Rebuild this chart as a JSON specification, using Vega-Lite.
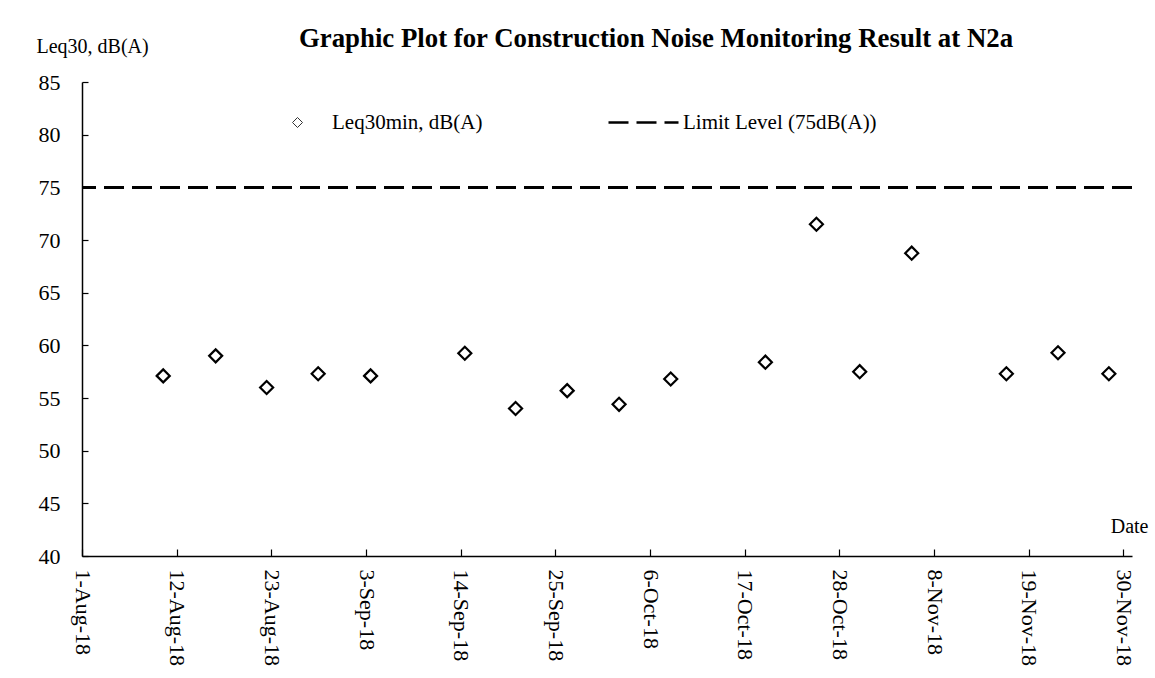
{
  "$schema": "https://vega.github.io/schema/vega-lite/v6.json",
  "autosize": {"type": "none"},
  "padding": {"left": 82, "top": 82, "right": 23, "bottom": 122},
  "width": 1050,
  "height": 474,
  "background": "white",
  "title": {
    "text": "Graphic Plot for Construction Noise Monitoring Result at N2a",
    "font": "Liberation Serif",
    "fontSize": 26.8,
    "fontWeight": "bold",
    "color": "black",
    "anchor": "middle",
    "frame": "group",
    "dx": 49,
    "dy": 27,
    "offset": 10
  },
  "data": {
    "values": [
      {"date": "2018-08-10T10:30:00", "leq": 57.1},
      {"date": "2018-08-16T12:45:00", "leq": 59.0},
      {"date": "2018-08-22T10:50:00", "leq": 56.0},
      {"date": "2018-08-28T10:35:00", "leq": 57.3},
      {"date": "2018-09-03T12:45:00", "leq": 57.1},
      {"date": "2018-09-14T11:30:00", "leq": 59.25},
      {"date": "2018-09-20T09:00:00", "leq": 54.0},
      {"date": "2018-09-26T09:00:00", "leq": 55.7},
      {"date": "2018-10-02T09:40:00", "leq": 54.4},
      {"date": "2018-10-08T09:40:00", "leq": 56.8},
      {"date": "2018-10-19T09:40:00", "leq": 58.4},
      {"date": "2018-10-25T08:00:00", "leq": 71.5},
      {"date": "2018-10-30T08:40:00", "leq": 57.5},
      {"date": "2018-11-05T09:40:00", "leq": 68.75},
      {"date": "2018-11-16T09:40:00", "leq": 57.3},
      {"date": "2018-11-22T09:40:00", "leq": 59.3},
      {"date": "2018-11-28T07:30:00", "leq": 57.3}
    ]
  },
  "layer": [
    {
      "mark": {"type": "point", "shape": "diamond", "filled": false, "stroke": "black", "strokeWidth": 2.2, "size": 170, "opacity": 1},
      "encoding": {
        "x": {
          "field": "date",
          "type": "temporal",
          "scale": {"domain": [{"year": 2018, "month": 8, "date": 1}, {"year": 2018, "month": 12, "date": 1}]},
          "axis": {
            "title": "Date",
            "titleFont": "Liberation Serif",
            "titleFontSize": 20,
            "titleFontWeight": "normal",
            "titleColor": "black",
            "titleAnchor": "end",
            "titleAlign": "right",
            "titleBaseline": "alphabetic",
            "titleX": 1066,
            "titleY": -24,
            "values": [
              {"year": 2018, "month": 8, "date": 1},
              {"year": 2018, "month": 8, "date": 12},
              {"year": 2018, "month": 8, "date": 23},
              {"year": 2018, "month": 9, "date": 3},
              {"year": 2018, "month": 9, "date": 14},
              {"year": 2018, "month": 9, "date": 25},
              {"year": 2018, "month": 10, "date": 6},
              {"year": 2018, "month": 10, "date": 17},
              {"year": 2018, "month": 10, "date": 28},
              {"year": 2018, "month": 11, "date": 8},
              {"year": 2018, "month": 11, "date": 19},
              {"year": 2018, "month": 11, "date": 30}
            ],
            "format": "%-d-%b-%y",
            "labelAngle": 90,
            "labelAlign": "left",
            "labelBaseline": "middle",
            "labelFont": "Liberation Serif",
            "labelFontSize": 22,
            "labelColor": "black",
            "labelPadding": 20,
            "labelOverlap": false,
            "labelFlush": false,
            "tickSize": -7,
            "tickColor": "black",
            "tickWidth": 1.2,
            "domainColor": "black",
            "domainWidth": 1.5,
            "grid": false
          }
        },
        "y": {
          "field": "leq",
          "type": "quantitative",
          "scale": {"domain": [40, 85], "nice": false, "zero": false},
          "axis": {
            "title": "Leq30, dB(A)",
            "titleFont": "Liberation Serif",
            "titleFontSize": 20,
            "titleFontWeight": "normal",
            "titleColor": "black",
            "titleAngle": 0,
            "titleAlign": "left",
            "titleBaseline": "alphabetic",
            "titleX": -46,
            "titleY": -30,
            "values": [40, 45, 50, 55, 60, 65, 70, 75, 80, 85],
            "labelFont": "Liberation Serif",
            "labelFontSize": 22,
            "labelColor": "black",
            "labelPadding": 28,
            "tickSize": -6,
            "tickColor": "black",
            "tickWidth": 1.2,
            "domainColor": "black",
            "domainWidth": 1.5,
            "grid": false
          }
        },
        "shape": {
          "datum": "Leq30min, dB(A)",
          "type": "nominal",
          "scale": {"range": ["diamond"]},
          "legend": {
            "title": null,
            "orient": "none",
            "legendX": 205,
            "legendY": 30,
            "padding": 0,
            "symbolSize": 100,
            "symbolStrokeWidth": 1,
            "symbolStrokeColor": "#333333",
            "symbolFillColor": "transparent",
            "labelOffset": 24,
            "labelLimit": 0,
            "labelFont": "Liberation Serif",
            "labelFontSize": 21,
            "labelColor": "black"
          }
        }
      }
    },
    {
      "mark": {"type": "rule", "color": "black", "strokeWidth": 2.6},
      "encoding": {
        "y": {"datum": 75, "type": "quantitative"},
        "strokeDash": {
          "datum": "Limit Level (75dB(A))",
          "type": "nominal",
          "scale": {"range": [[20, 8]]},
          "legend": {
            "title": null,
            "orient": "none",
            "legendX": 525,
            "legendY": 4,
            "padding": 0,
            "symbolType": "stroke",
            "symbolSize": 4900,
            "symbolStrokeWidth": 2.6,
            "symbolStrokeColor": "black",
            "labelOffset": 3,
            "labelLimit": 0,
            "labelFont": "Liberation Serif",
            "labelFontSize": 21,
            "labelColor": "black"
          }
        }
      }
    }
  ],
  "config": {
    "view": {"stroke": null}
  }
}
